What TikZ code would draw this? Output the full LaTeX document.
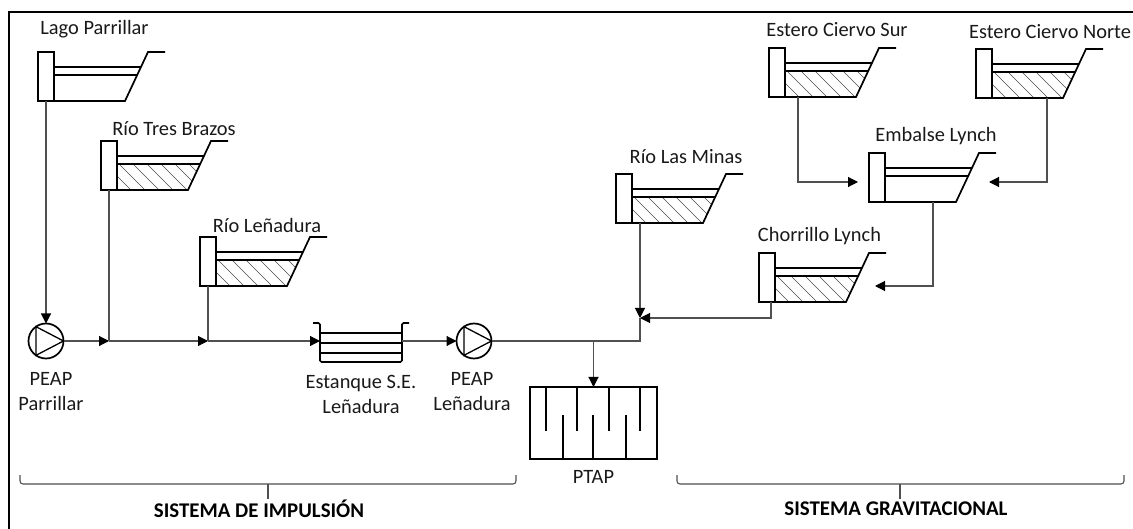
\documentclass[tikz,border=0pt]{standalone}
\usepackage{fontspec}
\setmainfont{Carlito}
\usetikzlibrary{arrows.meta,positioning}
\definecolor{inkgray}{HTML}{505050}
\tikzset{wall/.style={rectangle,draw,line width=1.7pt,anchor=north west,inner sep=0pt,outer sep=0pt,minimum width=16pt,minimum height=49pt}}
\tikzset{basin/.style={line width=1.7pt,line join=miter}}
\tikzset{hatch/.style={line width=0.5pt,black!70}}
\tikzset{lbl/.style={font=\fontsize{20.4}{25}\selectfont,text=black!90,align=center,inner sep=0pt}}
\tikzset{syslbl/.style={font=\fontsize{20.9}{24}\selectfont\bfseries,inner sep=0pt}}
\tikzset{pump/.style={circle,draw,line width=1.7pt,inner sep=0pt,outer sep=0pt,minimum size=35pt}}
\tikzset{tankbox/.style={rectangle,inner sep=0pt,outer sep=0pt,minimum width=82pt,minimum height=39pt}}
\tikzset{ptapbox/.style={rectangle,draw,line width=1.7pt,inner sep=0pt,outer sep=0pt,minimum width=127pt,minimum height=72pt}}
\tikzset{flow/.style={draw=inkgray,line width=1.1pt}}
\tikzset{tip/.style={flow,-{Triangle[length=10pt,width=10pt,color=black]}}}
\tikzset{brace/.style={draw=inkgray,line width=1.1pt,rounded corners=3pt}}
\newcommand{\reservoir}[3]{
  \begin{scope}[shift={(#2,#3)}]
    \node[wall] (#1) at (0,0) {};
    \draw[basin] (16,49) -- (87,49) -- (110,0) -- (127,0);
    \draw[basin] (16,15) -- (103,15);
    \draw[basin] (16,23) -- (99,23);
  \end{scope}
}
\newcommand{\sediment}[2]{
  \begin{scope}[shift={(#1,#2)}]
    \clip (16,23) -- (99,23) -- (87,49) -- (16,49) -- cycle;
    \foreach \a in {-10,4,...,95} {
      \draw[hatch] (\a,23) -- (\a+26,49);
    }
  \end{scope}
}
\begin{document}
\begin{tikzpicture}[x=1pt,y=-1pt]
    \useasboundingbox (0,0) rectangle (1133,529);
    \draw[line width=1.5pt] (1133,12) -- (9,12) -- (9,529);

    \sediment{101}{141}
    \sediment{200}{237}
    \sediment{616}{174}
    \sediment{769}{48}
    \sediment{976}{49}
    \sediment{759}{253}

    \reservoir{lago}{38}{52}
    \reservoir{tres}{101}{141}
    \reservoir{lenadura}{200}{237}
    \reservoir{minas}{616}{174}
    \reservoir{sur}{769}{48}
    \reservoir{norte}{976}{49}
    \reservoir{embalse}{869}{153}
    \reservoir{chorrillo}{759}{253}

    \node[lbl,above of=lago,node distance=47.5pt,xshift=48.5pt] (llago) {Lago Parrillar};
    \node[lbl,above of=tres,node distance=36.5pt,xshift=65pt] (ltres) {Río Tres Brazos};
    \node[lbl,above of=lenadura,node distance=36.5pt,xshift=59pt] (llena) {Río Leñadura};
    \node[lbl,above of=minas,node distance=41.5pt,xshift=62pt] (lminas) {Río Las Minas};
    \node[lbl,above of=sur,node distance=42.5pt,xshift=60pt] (lsur) {Estero Ciervo Sur};
    \node[lbl,above of=norte,node distance=41.5pt,xshift=66pt] (lnorte) {Estero Ciervo Norte};
    \node[lbl,above of=embalse,node distance=41.5pt,xshift=59pt] (lemb) {Embalse Lynch};
    \node[lbl,above of=chorrillo,node distance=41.5pt,xshift=52.5pt] (lcho) {Chorrillo Lynch};

    \node[pump] (peapa) at (46,341) {};
    \node[pump] (peapb) at (474,341) {};
    \node[tankbox] (estanque) at (361,341) {};
    \node[ptapbox] (ptap) at (593.5,423) {};

    \node[lbl,below of=peapa,node distance=51pt,xshift=5pt] (lpeapa) {PEAP\\Parrillar};
    \node[lbl,below of=peapb,node distance=51pt,xshift=-2pt] (lpeapb) {PEAP\\Leñadura};
    \node[lbl,below of=estanque,node distance=53.5pt] (lest) {Estanque S.E.\\Leñadura};
    \node[lbl,below of=ptap,node distance=54pt] (lptap) {PTAP};

    % pump symbols
    \draw[line width=1.3pt] (peapa.125) -- (peapa.east) -- (peapa.235) -- cycle;
    \draw[line width=1.3pt] (peapb.125) -- (peapb.east) -- (peapb.235) -- cycle;

    % tank
    \draw[basin,rounded corners=1.5pt] (313,323) -- (320,323) -- (320,362) -- (402,362) -- (402,323) -- (409,323);
    \foreach \y in {333,343,353} {
      \draw[basin] (320,\y) -- (402,\y);
    }

    % filter baffles
    \foreach \x in {546,577,609,640} {
      \draw[basin] (\x,387) -- (\x,431);
    }
    \foreach \x in {563,593,626} {
      \draw[basin] (\x,459) -- (\x,415);
    }

    \coordinate (ja) at (109,341);
    \coordinate (jb) at (208,341);
    \coordinate (jc) at (640,318);
    \coordinate (jd) at (640,341);
    \coordinate (je) at (593.5,341);
    \coordinate (oute) at (798,97);
    \coordinate (ine) at (858,182);
    \coordinate (outn) at (1047,98);
    \coordinate (inn) at (989,182);
    \coordinate (outm) at (933,202);
    \coordinate (inc) at (875,286);
    \coordinate (outc) at (771,302);
    \coordinate (outr) at (640,223);

    \path[tip] (lago.south) -- (peapa.north);
    \path[tip] (peapa.east) -- (ja);
    \path[tip] (ja) -- (jb);
    \path[tip] (jb) -- (estanque.west);
    \path[tip] (estanque.east) -- (peapb.west);
    \path[flow] (tres.south) -- (ja);
    \path[flow] (lenadura.south) -- (jb);
    \path[flow] (peapb.east) -- (jd) -- (jc);
    \path[tip] (je) -- (ptap.north);
    \path[tip] (outr) -- (jc);
    \path[tip] (outc) |- (jc);
    \path[tip] (oute) |- (ine);
    \path[tip] (outn) |- (inn);
    \path[tip] (outm) |- (inc);

    % system braces
    \draw[brace] (20,475) -- (20,484) -- (516,484) -- (516,475);
    \draw[flow] (268,484) -- (268,499);
    \draw[brace] (677,475) -- (677,484) -- (1124,484) -- (1124,475);
    \draw[flow] (900,484) -- (900,499);
    \node[syslbl] (simp) at (259,509) {SISTEMA DE IMPULSIÓN};
    \node[syslbl] (sgrav) at (896,509) {SISTEMA GRAVITACIONAL};
\end{tikzpicture}
\end{document}
